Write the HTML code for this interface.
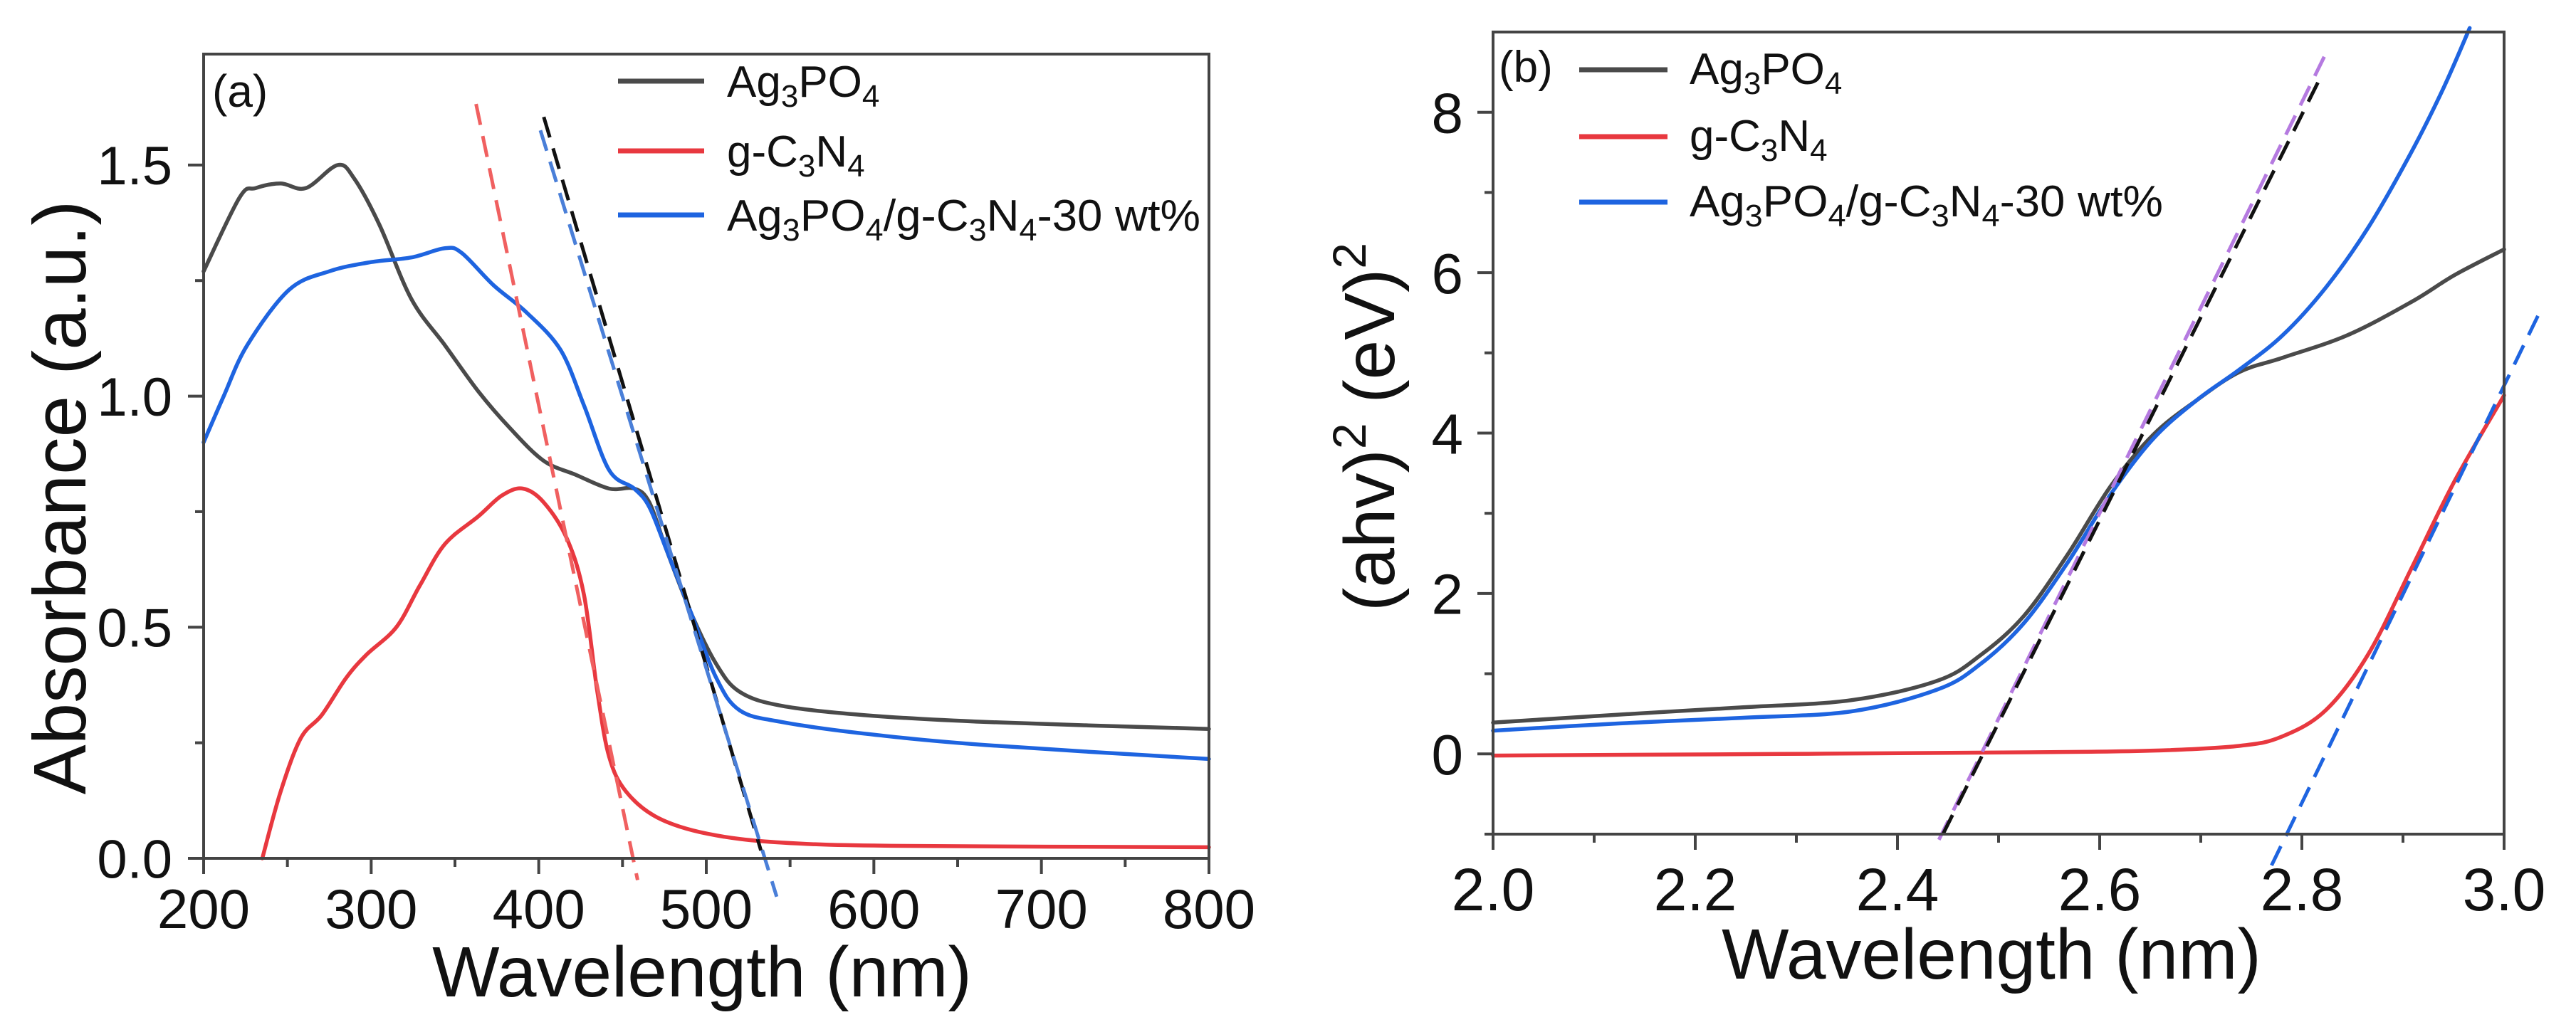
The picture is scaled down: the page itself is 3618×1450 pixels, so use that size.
<!DOCTYPE html>
<html><head><meta charset="utf-8">
<style>
html,body{margin:0;padding:0;background:#fff;}
svg{display:block;font-family:"Liberation Sans",Arial,sans-serif;}
</style></head>
<body>
<svg id="fig" width="3618" height="1450" viewBox="0 0 3618 1450" xmlns="http://www.w3.org/2000/svg">
<rect width="3618" height="1450" fill="#fff"/>
<g id="pa"></g>
<g id="pb"></g>

<text x="298" y="150" font-size="64" fill="#111">(a)</text>
<text x="986" y="1400" font-size="100" text-anchor="middle" fill="#111">Wavelength (nm)</text>
<text transform="translate(120,699) rotate(-90)" font-size="105" text-anchor="middle" fill="#111">Absorbance (a.u.)</text>
<g font-size="62" fill="#111">
  <line x1="868" y1="114" x2="989" y2="114" stroke="#4a4a4a" stroke-width="7"/>
  <text x="1021" y="136">Ag<tspan font-size="44" dy="14">3</tspan><tspan dy="-14">PO</tspan><tspan font-size="44" dy="14">4</tspan></text>
  <line x1="868" y1="212" x2="989" y2="212" stroke="#e8383f" stroke-width="7"/>
  <text x="1021" y="234">g-C<tspan font-size="44" dy="14">3</tspan><tspan dy="-14">N</tspan><tspan font-size="44" dy="14">4</tspan></text>
  <line x1="868" y1="302" x2="989" y2="302" stroke="#1e64e0" stroke-width="7"/>
  <text x="1021" y="324" textLength="665" lengthAdjust="spacingAndGlyphs">Ag<tspan font-size="44" dy="14">3</tspan><tspan dy="-14">PO</tspan><tspan font-size="44" dy="14">4</tspan><tspan dy="-14">/g-C</tspan><tspan font-size="44" dy="14">3</tspan><tspan dy="-14">N</tspan><tspan font-size="44" dy="14">4</tspan><tspan dy="-14">-30 wt%</tspan></text>
</g>

<text x="2105" y="115" font-size="62" fill="#111">(b)</text>
<text x="2797" y="1375" font-size="100" text-anchor="middle" fill="#111">Wavelength (nm)</text>
<text transform="translate(1958,600) rotate(-90)" font-size="100" text-anchor="middle" fill="#111">(ahv)<tspan font-size="66" dy="-40">2</tspan><tspan dy="40"> (eV)</tspan><tspan font-size="66" dy="-40">2</tspan></text>
<g font-size="62" fill="#111">
  <line x1="2218" y1="98" x2="2342" y2="98" stroke="#4a4a4a" stroke-width="7"/>
  <text x="2373" y="118">Ag<tspan font-size="44" dy="14">3</tspan><tspan dy="-14">PO</tspan><tspan font-size="44" dy="14">4</tspan></text>
  <line x1="2218" y1="192" x2="2342" y2="192" stroke="#e8383f" stroke-width="7"/>
  <text x="2373" y="212">g-C<tspan font-size="44" dy="14">3</tspan><tspan dy="-14">N</tspan><tspan font-size="44" dy="14">4</tspan></text>
  <line x1="2218" y1="284" x2="2342" y2="284" stroke="#1e64e0" stroke-width="7"/>
  <text x="2373" y="304" textLength="665" lengthAdjust="spacingAndGlyphs">Ag<tspan font-size="44" dy="14">3</tspan><tspan dy="-14">PO</tspan><tspan font-size="44" dy="14">4</tspan><tspan dy="-14">/g-C</tspan><tspan font-size="44" dy="14">3</tspan><tspan dy="-14">N</tspan><tspan font-size="44" dy="14">4</tspan><tspan dy="-14">-30 wt%</tspan></text>
</g>
</svg>
<script>
// ---- Panel (a) data ----
const aBlackX = [200,221.5,231,246,261,280,290,305,324,344,364,383,403,422,442,457,466,476,491,506,520,545,594,667,800];
const aBlackY = [1.27,1.43,1.45,1.46,1.45,1.50,1.47,1.37,1.21,1.11,1.01,0.93,0.86,0.83,0.80,0.80,0.77,0.67,0.53,0.42,0.36,0.33,0.31,0.295,0.28];
const aBlueX = [200,212,226,251,275,300,324,344,354,373,393,413,427,442,457,466,476,491,506,520,545,594,667,800];
const aBlueY = [0.90,1.0,1.11,1.23,1.27,1.29,1.30,1.32,1.31,1.24,1.18,1.10,0.98,0.84,0.80,0.76,0.67,0.53,0.39,0.32,0.295,0.27,0.245,0.215];
const aRedX = [235,246,258,270.5,285,297,315,329,344,364,378,390.5,403,417,427,435,442,452,471,501,545,618,800];
const aRedY = [0,0.145,0.26,0.31,0.39,0.44,0.50,0.59,0.68,0.74,0.785,0.80,0.77,0.69,0.57,0.36,0.22,0.145,0.088,0.053,0.034,0.027,0.024];
const aFitRed = [[362.6,1.632],[459,-0.047]];
const aFitBlack = [[403,1.604],[532.6,0.017]];
const aFitBlue = [[401,1.575],[542,-0.083]];
const aXTicks = [200,300,400,500,600,700,800];
const aXTickLabels = ["200","300","400","500","600","700","800"];
const aYTicks = [0,0.5,1.0,1.5];
const aYTickLabels = ["0.0","0.5","1.0","1.5"];

// ---- Panel (b) data ----
const bBlackX = [2.0,2.124,2.246,2.354,2.439,2.482,2.525,2.568,2.611,2.653,2.696,2.738,2.781,2.845,2.909,2.951,3.0];
const bBlackY = [0.39,0.49,0.58,0.67,0.91,1.23,1.72,2.48,3.34,3.98,4.41,4.76,4.94,5.22,5.64,5.97,6.29];
const bBlueX = [2.0,2.124,2.246,2.354,2.439,2.482,2.525,2.568,2.611,2.653,2.696,2.738,2.781,2.824,2.866,2.909,2.940,2.966];
const bBlueY = [0.29,0.38,0.45,0.53,0.80,1.12,1.63,2.38,3.24,3.93,4.41,4.79,5.22,5.82,6.57,7.52,8.30,9.05];
const bRedX = [2.0,2.286,2.530,2.650,2.738,2.781,2.824,2.866,2.909,2.951,3.0];
const bRedY = [-0.02,0.0,0.02,0.04,0.10,0.22,0.55,1.25,2.33,3.40,4.47];
const bFitPurple = [[2.441,-1.07],[2.824,8.74]];
const bFitBlack = [[2.445,-1.0],[2.819,8.45]];
const bFitBlue = [[2.770,-1.39],[3.038,5.58]];
const bXTicks = [2.0,2.2,2.4,2.6,2.8,3.0];
const bXTickLabels = ["2.0","2.2","2.4","2.6","2.8","3.0"];
const bYTicks = [0,2,4,6,8];
const bYTickLabels = ["0","2","4","6","8"];

const NS = "http://www.w3.org/2000/svg";
function mk(tag, attrs, parent){
  const e = document.createElementNS(NS, tag);
  for (const k in attrs) e.setAttribute(k, attrs[k]);
  parent.appendChild(e);
  return e;
}
function smoothPath(pts){
  let d = "M" + pts[0][0].toFixed(1) + "," + pts[0][1].toFixed(1);
  for (let i = 0; i < pts.length - 1; i++){
    const p0 = pts[Math.max(i-1,0)], p1 = pts[i], p2 = pts[i+1], p3 = pts[Math.min(i+2,pts.length-1)];
    const c1x = p1[0] + (p2[0]-p0[0])/6, c1y = p1[1] + (p2[1]-p0[1])/6;
    const c2x = p2[0] - (p3[0]-p1[0])/6, c2y = p2[1] - (p3[1]-p1[1])/6;
    d += " C" + c1x.toFixed(1)+","+c1y.toFixed(1)+" "+c2x.toFixed(1)+","+c2y.toFixed(1)+" "+p2[0].toFixed(1)+","+p2[1].toFixed(1);
  }
  return d;
}

function drawPanel(g, cfg){
  const sx = v => cfg.x0 + (v - cfg.xmin) / (cfg.xmax - cfg.xmin) * (cfg.x1 - cfg.x0);
  const sy = v => cfg.y1 - (v - cfg.ymin) / (cfg.ymax - cfg.ymin) * (cfg.y1 - cfg.y0);
  cfg.series.forEach(s => {
    const pts = s.x.map((xv, i) => [sx(xv), sy(s.y[i])]);
    const p = mk("path", {d: smoothPath(pts), fill: "none", stroke: s.color, "stroke-width": 5.5, "stroke-linejoin": "round", "stroke-linecap": "round"}, g);
    
    
  });
  cfg.fits.forEach(f => {
    const l = mk("line", {x1: sx(f.pts[0][0]), y1: sy(f.pts[0][1]), x2: sx(f.pts[1][0]), y2: sy(f.pts[1][1]), stroke: f.color, "stroke-width": 5, "stroke-dasharray": "30 16"}, g);
    
    
  });
  const fr = mk("rect", {x: cfg.x0, y: cfg.y0, width: cfg.x1 - cfg.x0, height: cfg.y1 - cfg.y0, fill: "none", stroke: "#444", "stroke-width": 4}, g);
  
  
  cfg.xTicks.forEach((t, i) => {
    const x = sx(t);
    const tk = mk("line", {x1: x, y1: cfg.y1, x2: x, y2: cfg.y1 + 22, stroke: "#444", "stroke-width": 4}, g);
    
    
    const tx = mk("text", {x: x, y: cfg.xLabelY, "font-size": cfg.xFont, "text-anchor": "middle", fill: "#111"}, g);
    tx.textContent = cfg.xTickLabels[i];
    
    
    if (i < cfg.xTicks.length - 1){
      const mx = sx((t + cfg.xTicks[i+1]) / 2);
      const mt = mk("line", {x1: mx, y1: cfg.y1, x2: mx, y2: cfg.y1 + 12, stroke: "#444", "stroke-width": 4}, g);
      
      
    }
  });
  cfg.yTicks.forEach((t, i) => {
    const y = sy(t);
    const tk = mk("line", {x1: cfg.x0 - 22, y1: y, x2: cfg.x0, y2: y, stroke: "#444", "stroke-width": 4}, g);
    
    
    const tx = mk("text", {x: cfg.yLabelX, y: y + cfg.yFont * 0.36, "font-size": cfg.yFont, "text-anchor": "end", fill: "#111"}, g);
    tx.textContent = cfg.yTickLabels[i];
    
    
  });
  cfg.yMinor.forEach(t => {
    const y = sy(t);
    const mt = mk("line", {x1: cfg.x0 - 12, y1: y, x2: cfg.x0, y2: y, stroke: "#444", "stroke-width": 4}, g);
    
    
  });
}

drawPanel(document.getElementById("pa"), {
  prefix: "panel-a", x0: 286, x1: 1698, y0: 76, y1: 1206,
  xmin: 200, xmax: 800, ymin: 0, ymax: 1.74,
  xTicks: aXTicks, xTickLabels: aXTickLabels, yTicks: aYTicks, yTickLabels: aYTickLabels,
  yMinor: [0.25,0.75,1.25], xLabelY: 1304, xFont: 78, yLabelX: 242, yFont: 76,
  series: [
    {name: "ag3po4-absorbance-line", x: aBlackX, y: aBlackY, color: "#4a4a4a"},
    {name: "composite-absorbance-line", x: aBlueX, y: aBlueY, color: "#1e64e0"},
    {name: "gc3n4-absorbance-line", x: aRedX, y: aRedY, color: "#e8383f"}
  ],
  fits: [
    {name: "gc3n4-edge-fit", pts: aFitRed, color: "#f06060"},
    {name: "ag3po4-edge-fit", pts: aFitBlack, color: "#111"},
    {name: "composite-edge-fit", pts: aFitBlue, color: "#4a7fd8"}
  ]
});

drawPanel(document.getElementById("pb"), {
  prefix: "panel-b", x0: 2097, x1: 3517, y0: 45, y1: 1172,
  xmin: 2.0, xmax: 3.0, ymin: -1, ymax: 9,
  xTicks: bXTicks, xTickLabels: bXTickLabels, yTicks: bYTicks, yTickLabels: bYTickLabels,
  yMinor: [-1,1,3,5,7], xLabelY: 1279, xFont: 84, yLabelX: 2055, yFont: 80,
  series: [
    {name: "ag3po4-tauc-line", x: bBlackX, y: bBlackY, color: "#4a4a4a"},
    {name: "composite-tauc-line", x: bBlueX, y: bBlueY, color: "#1e64e0"},
    {name: "gc3n4-tauc-line", x: bRedX, y: bRedY, color: "#e8383f"}
  ],
  fits: [
    {name: "composite-tauc-fit", pts: bFitPurple, color: "#b57ae0"},
    {name: "ag3po4-tauc-fit", pts: bFitBlack, color: "#111"},
    {name: "gc3n4-tauc-fit", pts: bFitBlue, color: "#1e64e0"}
  ]
});
</script>
</body></html>
